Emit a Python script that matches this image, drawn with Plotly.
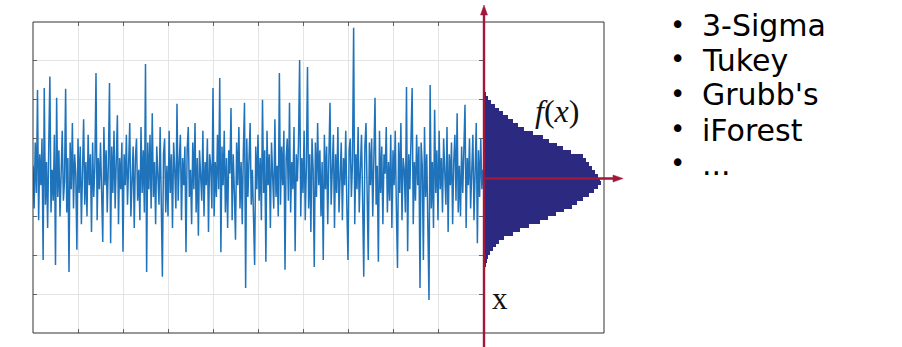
import plotly.graph_objects as go

# ---------------- data ----------------
signal = [
    0.3, -0.8, 0.9, -0.4, 2.25, -1.1, 0.6, -0.2, 1.0, -2.12, 2.3, -0.7, 0.4, -1.3, 0.8, 2.6, -0.9, 0.2, -0.6, 1.1,
    -2.25, 2.05, -0.5, 0.7, -1.0, 0.3, 1.2, -0.6, -0.1, 2.28, -0.9, 0.5, -2.43, 0.9, -0.3, 1.4, -0.8, 0.6, 0.1, -1.86,
    1.0, -0.4, 0.8, -1.2, 0.2, 1.5, -0.7, 0.4, -1.0, 1.1, -0.2, 0.6, -1.4, 0.9, -0.5, 0.3, 2.69, -1.1, 0.5, -0.3,
    0.9, -0.6, -1.66, 1.3, -0.2, 0.7, -0.9, 0.4, 2.43, -1.69, 0.8, -0.4, 1.2, -0.8, 0.1, 1.6, -1.2, 0.5, -0.3, 0.9,
    -1.91, 0.6, -0.2, 1.1, -0.7, 0.3, 1.4, -1.0, 0.2, 0.8, -1.3, 0.5, 1.0, -0.6, 0.2, -1.1, 1.3, -0.4, 0.7, -0.9,
    2.92, -2.43, 0.9, -0.3, 1.1, -0.8, 1.65, -0.5, 0.4, -1.2, 0.8, 0.1, -0.7, 1.3, -0.2, -2.55, 0.6, 1.0, -0.9, 0.3,
    -1.0, 1.2, -0.4, 0.6, -1.3, 0.9, 0.2, -0.8, 1.9, -0.6, 0.4, 1.1, -1.1, 0.5, -0.2, 0.8, -1.92, 0.7, 1.3, -0.5,
    0.2, -1.2, 0.9, -0.3, 1.4, -0.9, 0.5, -1.5, 0.7, 0.1, -0.6, 1.2, -1.0, 0.4, -0.2, 1.0, -1.4, 0.6, 0.3, -0.8,
    2.3, -1.0, 0.4, -0.5, 1.1, -0.3, 2.56, -1.92, 0.8, -0.2, 1.2, -0.9, 0.5, -1.3, 0.7, 0.1, 1.79, -1.1, 0.6, -0.4,
    -1.6, 0.9, -0.2, 1.3, -0.8, 0.4, -1.2, 0.7, 1.92, -2.84, 1.0, -0.5, 0.3, 1.4, -0.7, 0.2, -1.0, -2.25, 0.8, -0.3,
    1.1, -0.6, 0.5, -1.1, 2.0, -0.4, 0.7, -2.17, 1.2, -0.2, 0.6, -1.3, 0.9, 0.1, -0.8, 1.5, -0.5, 0.3, -1.0, 2.69,
    -0.7, 0.8, -0.2, 1.2, -2.37, 0.5, 1.0, -0.6, 1.92, -0.9, 0.4, -0.3, 1.3, -1.9, 0.6, -0.1, 0.9, 3.02, -1.0, 0.5,
    -0.4, 1.2, -1.1, 0.3, 2.84, -0.8, 0.6, -1.4, 1.0, 0.2, -2.3, 0.9, -0.5, 1.4, -0.2, 0.7, -1.0, 0.4, -2.12, 1.1,
    -0.3, 0.8, -1.2, 0.5, 1.92, -0.7, 0.2, 1.1, -1.3, 0.6, -0.4, 1.3, -0.9, 0.3, 0.9, -1.1, 0.5, -0.2, 1.2, -0.8,
    -2.12, 0.7, 1.0, -0.5, 0.4, 3.85, -1.2, 0.6, -0.3, 1.3, -0.9, 0.2, 1.1, -0.6, -2.55, 0.8, 1.4, -0.4, -2.12, 0.9,
    -0.2, 1.0, -1.0, 0.5, 2.05, -0.7, 0.3, -2.17, 1.2, -0.4, 0.8, -1.2, 0.6, 0.1, 1.3, -0.9, 0.4, -0.6, 1.1, -1.3,
    0.7, -0.2, 1.2, -0.8, -2.33, 0.9, -0.4, 1.4, -1.1, 0.5, 0.2, -0.9, 2.33, -1.9, 0.6, -0.3, 1.0, 2.3, -1.2, 0.4,
    -0.6, 1.1, -0.2, 0.8, -2.84, 0.9, 0.3, -2.12, 1.3, -0.5, 0.6, -1.0, -3.15, 2.38, -0.8, 0.4, -1.3, 1.74, -0.4, 0.7,
    -1.1, 1.2, -0.3, 0.5, -0.9, 1.0, 0.2, -0.7, 1.3, -1.4, 0.6, -0.2, 0.9, -1.2, 0.4, 1.1, -0.6, 1.65, -0.9, 0.3,
    -1.0, 0.8, -0.4, 1.2, 1.87, -1.3, 0.5, -0.2, 1.0, -0.8, 0.3, 1.1, -1.1, 0.6, 1.4, -1.69, 0.7, -0.5, 1.0, -0.3,
    0.2,
]
sample_index = list(range(len(signal)))

bin_centers = [
    -2.45, -2.35, -2.25, -2.15, -2.05, -1.95, -1.85, -1.75, -1.65, -1.55,
    -1.45, -1.35, -1.25, -1.15, -1.05, -0.95, -0.85, -0.75, -0.65, -0.55,
    -0.45, -0.35, -0.25, -0.15, -0.05, 0.05, 0.15, 0.25, 0.35, 0.45,
    0.55, 0.65, 0.75, 0.85, 0.95, 1.05, 1.15, 1.25, 1.35, 1.45,
    1.55, 1.65, 1.75, 1.85, 1.95, 2.05, 2.15, 2.25, 2.35, 2.45,
]
bin_counts = [
    0, 1, 2, 3, 4, 6, 9, 12, 15, 20,
    29, 36, 45, 56, 64, 72, 80, 88, 93, 99,
    105, 110, 114, 117, 116, 114, 111, 108, 105, 102,
    99, 87, 79, 73, 65, 59, 49, 40, 34, 29,
    24, 19, 15, 11, 7, 4, 2, 1, 1, 0,
]

methods = ["3-Sigma", "Tukey", "Grubb's", "iForest", "..."]

# ---------------- layout helpers ----------------
W, H = 902, 347
def px(x):
    return x / W
def py(y):
    return 1 - y / H

RED = "#a3173a"
BLUE = "#1f73bb"
NAVY = "#2c2a80"

fig = go.Figure()
fig.add_trace(go.Scatter(
    x=sample_index, y=signal, mode="lines",
    line=dict(color=BLUE, width=1.5),
    xaxis="x", yaxis="y", hoverinfo="skip", showlegend=False,
))
fig.add_trace(go.Bar(
    x=bin_counts, y=bin_centers, orientation="h", width=0.1,
    marker=dict(color=NAVY, line=dict(width=0)),
    xaxis="x2", yaxis="y2", hoverinfo="skip", showlegend=False,
))

y_dom = [py(333), py(22)]
axis_common = dict(showticklabels=False, zeroline=False, showline=False,
                   showgrid=True, gridcolor="#e4e4e4", gridwidth=1,
                   ticks="inside", ticklen=4, tickcolor="#666", mirror="ticks")

fig.update_layout(
    width=W, height=H, autosize=False,
    margin=dict(l=0, r=0, t=0, b=0),
    paper_bgcolor="white", plot_bgcolor="white",
    showlegend=False, bargap=0,
    xaxis=dict(domain=[px(33), px(483)], range=[0, 400], dtick=40, tick0=0,
               anchor="y", **axis_common),
    yaxis=dict(domain=y_dom, range=[-4, 4], dtick=1, tick0=0,
               anchor="x", **axis_common),
    xaxis2=dict(domain=[px(484), px(604)], range=[0, 120], visible=False,
                anchor="y2"),
    yaxis2=dict(domain=y_dom, range=[-4, 4], visible=False, anchor="x2"),
)

shapes = []
# outer box
shapes.append(dict(type="rect", xref="paper", yref="paper",
                   x0=px(33), x1=px(604), y0=py(333), y1=py(22),
                   line=dict(color="#333333", width=1)))
# vertical red axis
shapes.append(dict(type="line", xref="paper", yref="paper",
                   x0=px(484), x1=px(484), y0=py(347), y1=py(13),
                   line=dict(color=RED, width=2.4)))
shapes.append(dict(type="path", xref="paper", yref="paper",
                   path=f"M {px(480.5)} {py(15)} L {px(484)} {py(5)} L {px(487.5)} {py(15)} Z",
                   fillcolor=RED, line=dict(color=RED, width=0.5)))
# horizontal red axis
shapes.append(dict(type="line", xref="paper", yref="paper",
                   x0=px(484), x1=px(615), y0=py(178.5), y1=py(178.5),
                   line=dict(color=RED, width=2.4)))
shapes.append(dict(type="path", xref="paper", yref="paper",
                   path=f"M {px(613)} {py(175)} L {px(623)} {py(178.5)} L {px(613)} {py(182)} Z",
                   fillcolor=RED, line=dict(color=RED, width=0.5)))
fig.update_layout(shapes=shapes)

ann = []
ann.append(dict(xref="paper", yref="paper", x=px(557), y=py(111),
                text="<i>f</i>(<i>x</i>)", showarrow=False,
                font=dict(family="Liberation Serif", size=32, color="#111"),
                xanchor="center", yanchor="middle"))
ann.append(dict(xref="paper", yref="paper", x=px(500), y=py(298),
                text="x", showarrow=False,
                font=dict(family="Liberation Serif", size=31, color="#111"),
                xanchor="center", yanchor="middle"))

line_y = [25, 59, 94, 129, 163]
for i, m in enumerate(methods):
    ann.append(dict(xref="paper", yref="paper", x=px(677), y=py(line_y[i]),
                    text="•", showarrow=False,
                    font=dict(family="DejaVu Sans", size=26, color="#000"),
                    xanchor="center", yanchor="middle"))
    ann.append(dict(xref="paper", yref="paper", x=px(700), y=py(line_y[i] + 1),
                    text=m, showarrow=False,
                    font=dict(family="DejaVu Sans", size=30, color="#000"),
                    xanchor="left", yanchor="middle"))
fig.update_layout(annotations=ann)

fig.write_html("out.html")
